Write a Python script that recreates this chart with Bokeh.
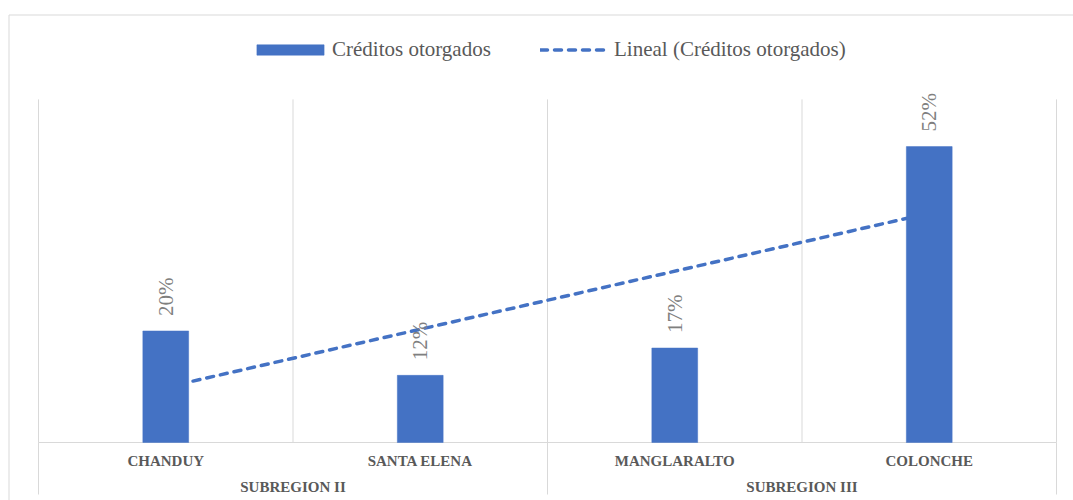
import numpy as np
from bokeh.plotting import figure
from bokeh.models import (Range1d, LinearAxis, FixedTicker, ColumnDataSource,
                          Legend, LegendItem)
from bokeh.embed import file_html
from bokeh.resources import INLINE
from bokeh.core.properties import value

# ---------------- data ----------------
cities = ["CHANDUY", "SANTA ELENA", "MANGLARALTO", "COLONCHE"]
subregions = ["SUBREGION II", "SUBREGION II", "SUBREGION III", "SUBREGION III"]
credits = [0.196, 0.118, 0.166, 0.520]
credit_labels = ["20%", "12%", "17%", "52%"]
series_name = "Créditos otorgados"
trend_name = "Lineal (Créditos otorgados)"

# ---------------- geometry (pixels) ----------------
W, H = 1073, 500
PXX = 254.5          # px per category
PXY = 569.0          # px per unit (100%)
left_pad, right_pad = 38, 17
top_pad, bottom_pad = 442, 58

x_start = -left_pad / PXX
x_end = len(cities) + right_pad / PXX
y_end = top_pad / PXY
y_start = -bottom_pad / PXY

BLUE = "#4472C4"
GRID = "#d9d9d9"
TXT = "#595959"
SERIF = "Liberation Serif"

p = figure(width=W, height=H, x_range=Range1d(x_start, x_end),
           y_range=Range1d(y_start, y_end), output_backend="svg",
           toolbar_location=None, x_axis_location=None, y_axis_location=None,
           min_border=0, min_border_left=0, min_border_right=0,
           min_border_top=0, min_border_bottom=0)
p.outline_line_color = None
p.grid.visible = False
p.background_fill_color = "white"
p.border_fill_color = "white"

xs = np.arange(len(cities)) + 0.5

# chart border (left and top visible)
top_border = (top_pad - 14.5) / PXY
bx = x_start + 8.5 / PXX
p.segment(x0=[bx, bx], y0=[y_start, top_border], x1=[bx, x_end], y1=[top_border, top_border],
          line_color=GRID, line_width=1)

# vertical category gridlines
bounds = np.arange(len(cities) + 1)
grid_top = 0.603
p.segment(x0=bounds, y0=np.zeros(len(bounds)), x1=bounds, y1=np.full(len(bounds), grid_top),
          line_color=GRID, line_width=1)
# group separators extended into the label area
group_bounds = [0] + [i for i in range(1, len(subregions)) if subregions[i] != subregions[i - 1]] + [len(subregions)]
sep_bottom = -52 / PXY
p.segment(x0=group_bounds, y0=[0] * len(group_bounds), x1=group_bounds,
          y1=[sep_bottom] * len(group_bounds), line_color=GRID, line_width=1)
# horizontal axis line
p.segment(x0=[0], y0=[0], x1=[len(cities)], y1=[0], line_color=GRID, line_width=1)

# linear trend line (least squares on the series, drawn behind the bars)
slope, intercept = np.polyfit(xs, credits, 1)
tx = np.array([xs[0], xs[-1]])
ty = slope * tx + intercept
trend = p.line(tx, ty, line_color=BLUE, line_width=3.5, line_dash="7 7", line_cap="round")

src = ColumnDataSource(dict(x=xs, top=credits, label=credit_labels))
bars = p.vbar(x="x", top="top", width=0.18, bottom=0, source=src,
              fill_color=BLUE, line_color=BLUE, line_width=0.5)

p.text(x="x", y="top", text="label", source=src, angle=np.pi / 2,
       text_align="left", text_baseline="middle", y_offset=-15,
       text_font=value(SERIF), text_font_size="21px", text_color="#7f7f7f")

# axes: categories and subregion groups
def style_axis(ax, standoff):
    ax.axis_line_color = None
    ax.major_tick_line_color = None
    ax.minor_tick_line_color = None
    ax.major_tick_out = 0
    ax.major_tick_in = 0
    ax.major_label_standoff = standoff
    ax.major_label_text_font = SERIF
    ax.major_label_text_font_style = "bold"
    ax.major_label_text_font_size = "15px"
    ax.major_label_text_color = TXT

ax1 = LinearAxis(fixed_location=0, ticker=FixedTicker(ticks=[float(v) for v in xs]),
                 major_label_overrides={float(v): c for v, c in zip(xs, cities)})
style_axis(ax1, 10)
p.add_layout(ax1, "below")

groups = []
for s in subregions:
    if s not in groups:
        groups.append(s)
gcenters = [float(np.mean([xs[i] for i, s in enumerate(subregions) if s == g])) for g in groups]
ax2 = LinearAxis(fixed_location=0, ticker=FixedTicker(ticks=gcenters),
                 major_label_overrides={c: g for c, g in zip(gcenters, groups)})
style_axis(ax2, 36)
p.add_layout(ax2, "below")

# legends
def style_legend(lg):
    lg.orientation = "horizontal"
    lg.padding = 0
    lg.margin = 0
    lg.border_line_color = None
    lg.background_fill_alpha = 0
    lg.label_text_font = SERIF
    lg.label_text_font_size = "21px"
    lg.label_text_color = TXT
    lg.glyph_height = 13
    lg.label_height = 13

lg1 = Legend(items=[LegendItem(label=series_name, renderers=[bars])],
             location=(248, 438), glyph_width=84, label_standoff=0)
style_legend(lg1)
lg2 = Legend(items=[LegendItem(label=trend_name, renderers=[trend])],
             location=(540, 438), glyph_width=70, label_standoff=4)
style_legend(lg2)
p.add_layout(lg1)
p.add_layout(lg2)

open("out.html", "w").write(file_html(p, INLINE))
